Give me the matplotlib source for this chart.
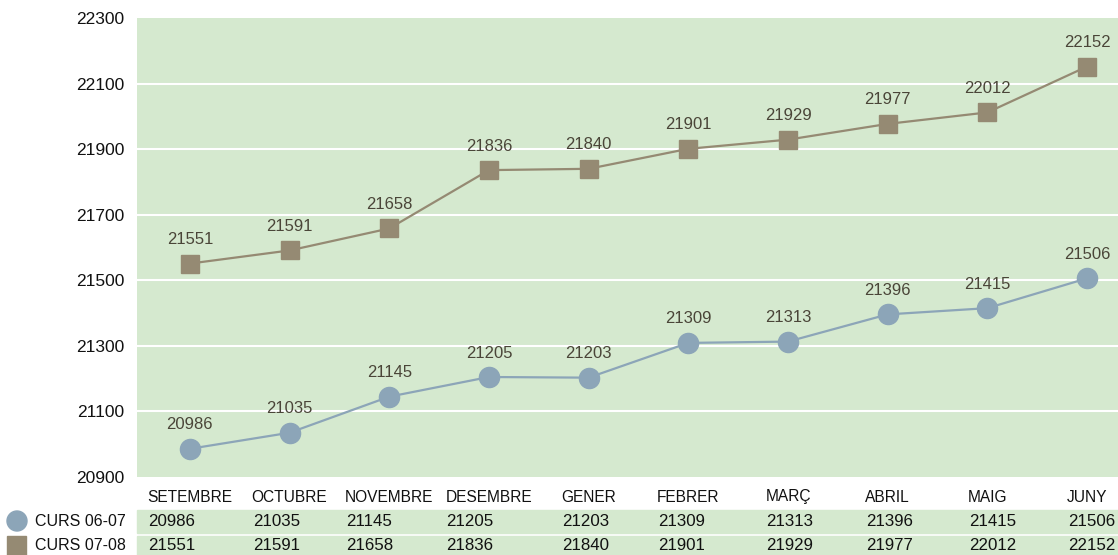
import matplotlib

matplotlib.use("Agg")
import matplotlib.pyplot as plt
from matplotlib.patches import Rectangle, Circle

months = ["SETEMBRE", "OCTUBRE", "NOVEMBRE", "DESEMBRE", "GENER",
          "FEBRER", "MARÇ", "ABRIL", "MAIG", "JUNY"]
series_names = ["CURS 06-07", "CURS 07-08"]
curs_0607 = [20986, 21035, 21145, 21205, 21203, 21309, 21313, 21396, 21415, 21506]
curs_0708 = [21551, 21591, 21658, 21836, 21840, 21901, 21929, 21977, 22012, 22152]
y_ticks = [20900, 21100, 21300, 21500, 21700, 21900, 22100, 22300]

GREEN = "#d5e9cf"
BLUE = "#8ca5b8"
BROWN = "#958a73"
LABEL = "#4a4538"
INK = "#111111"

plt.rcParams["font.family"] = ["Liberation Sans", "DejaVu Sans"]

W, H = 1118, 555
fig = plt.figure(figsize=(W / 100, H / 100), dpi=100)
ax = fig.add_axes([137 / W, 1 - 477 / H, (W - 137) / W, (477 - 18) / H])
ax.set_facecolor(GREEN)
for s in ax.spines.values():
    s.set_visible(False)

x = list(range(len(months)))
ax.plot(x, curs_0607, color=BLUE, lw=1.6, marker="o", ms=14.5, mec=BLUE, zorder=3)
ax.plot(x, curs_0708, color=BROWN, lw=1.6, marker="s", ms=13.5, mec=BROWN, zorder=3)
for vals in (curs_0607, curs_0708):
    for xi, v in zip(x, vals):
        ax.annotate(str(v), (xi, v), xytext=(0, 14), textcoords="offset points",
                    ha="center", va="baseline", fontsize=12, color=LABEL)

ax.set_xlim(-0.53, 9.31)
ax.set_ylim(20900, 22300)
ax.set_yticks(y_ticks)
ax.set_xticks([])
ax.tick_params(axis="y", length=0, pad=9, labelsize=12.5, labelcolor=INK)
for t in y_ticks[1:-1]:
    ax.axhline(t, color="white", lw=1.5, zorder=1)


# table below the plot, placed in pixel rows of the figure
def fy(py):
    return 1 - py / H


for top, bot in ((510, 533), (536, 555)):
    fig.patches.append(Rectangle((137 / W, fy(bot)), (W - 137) / W, (bot - top) / H,
                                 transform=fig.transFigure, color=GREEN, zorder=0))

fig.canvas.draw()
renderer = fig.canvas.get_renderer()
for xi, m in enumerate(months):
    px = ax.transData.transform((xi, 0))[0]
    t = fig.text(px / W, fy(497), m, ha="center", va="center", fontsize=11.2, color=INK)
    left = t.get_window_extent(renderer).x0 / W
    fig.text(left + 1 / W, fy(522), str(curs_0607[xi]), ha="left", va="center",
             fontsize=12.2, color=INK)
    fig.text(left + 1 / W, fy(545), str(curs_0708[xi]), ha="left", va="center",
             fontsize=12.2, color=INK)

# legend keys
fig.patches.append(Circle((0.17, (H - 521) / 100), 0.10,
                          transform=fig.dpi_scale_trans, color=BLUE))
fig.patches.append(Rectangle((7 / W, fy(555)), 19 / W, 19 / H,
                             transform=fig.transFigure, color=BROWN))
fig.text(35 / W, fy(521), series_names[0], ha="left", va="center", fontsize=11.5, color=INK)
fig.text(35 / W, fy(545), series_names[1], ha="left", va="center", fontsize=11.5, color=INK)

fig.savefig("out.png", dpi=100)
